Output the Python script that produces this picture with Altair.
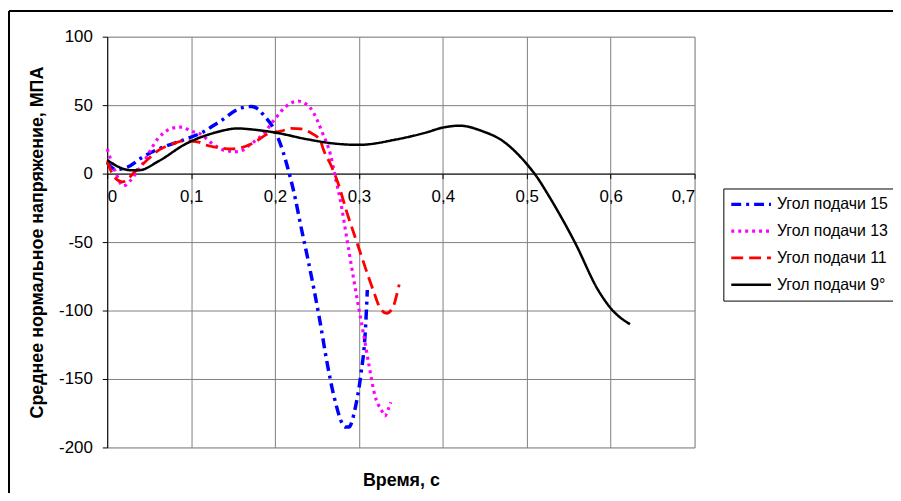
import altair as alt
import pandas as pd

# ---- data ----
series_names = ["Угол подачи 15", "Угол подачи 13", "Угол подачи 11", "Угол подачи 9°"]

t15 = [0, 0.01, 0.025, 0.042, 0.065, 0.091, 0.113, 0.134, 0.16, 0.172, 0.18, 0.186,
       0.2, 0.209, 0.215, 0.223, 0.231, 0.239, 0.253, 0.262, 0.27, 0.284, 0.288,
       0.296, 0.302, 0.308, 0.31]
v15 = [8, 3, 5, 12, 19, 24.6, 30, 38, 48, 49, 47, 43,
       31, 17, 4.5, -15, -39, -62, -106, -138, -162, -185, -185,
       -170, -148, -111, -85]

t13 = [0, 0.01, 0.019, 0.034, 0.042, 0.061, 0.077, 0.089, 0.1, 0.111, 0.124, 0.14,
       0.156, 0.172, 0.186, 0.2, 0.213, 0.227, 0.242, 0.257, 0.266, 0.272, 0.278,
       0.286, 0.294, 0.3, 0.306, 0.312, 0.319, 0.327, 0.331, 0.335, 0.338]
v13 = [18, 1, -9, 0, 7, 26, 33, 34, 31, 29, 22.5, 17,
       16, 22, 29, 40, 49, 53, 48, 29, 14, -3, -20,
       -49, -78, -99, -119, -140, -162, -173, -177, -172, -167]

t11 = [0, 0.008, 0.018, 0.034, 0.046, 0.061, 0.077, 0.093, 0.109, 0.117, 0.132,
       0.148, 0.16, 0.176, 0.191, 0.207, 0.219, 0.231, 0.242, 0.254, 0.258, 0.266,
       0.274, 0.286, 0.298, 0.31, 0.318, 0.325, 0.333, 0.341, 0.344, 0.348]
v11 = [9, -2, -6, 2, 9, 17, 21.5, 24, 23, 21, 19,
       18, 19, 23, 29, 31, 33, 32.6, 30, 24, 17, 7,
       -5, -29, -51, -73, -87, -98, -102, -97, -91, -81]

t9 = [0, 0.01, 0.028, 0.038, 0.061, 0.093, 0.129, 0.156, 0.168, 0.2, 0.239, 0.27,
      0.3, 0.345, 0.38, 0.4, 0.42, 0.447, 0.471, 0.5, 0.511, 0.526, 0.558, 0.585,
      0.601, 0.623]
v9 = [10, 6, 2.5, 2.5, 9, 21.5, 30, 33, 32.5, 30, 25, 22,
      21, 25, 30, 33.6, 35, 31, 24, 7, -1.5, -16, -51, -85,
      -99, -110]

x_ticks = [0, 0.1, 0.2, 0.3, 0.4, 0.5, 0.6, 0.7]
y_ticks = [100, 50, 0, -50, -100, -150, -200]

colors = ["#0000ff", "#ff00ff", "#ff0000", "#000000"]
dashes = [[10, 5, 3, 5], [3, 4], [12, 6], [1, 0]]
widths = [3.5, 2.5, 2.5, 2]

rows = []
for name, ts, vs in zip(series_names, [t15, t13, t11, t9], [v15, v13, v11, v9]):
    for i, (t, v) in enumerate(zip(ts, vs)):
        rows.append({"series": name, "t": t, "v": v, "i": i})
df = pd.DataFrame(rows)

W, H = 592, 414
FONT = "Liberation Sans"
FS = 17
TFS = 18

x_scale = alt.Scale(domain=[0, 0.7], nice=False, zero=False)
y_scale = alt.Scale(domain=[-200, 100], nice=False)

lines = alt.Chart(df).mark_line(interpolate="monotone", strokeCap="butt").encode(
    x=alt.X("t:Q", scale=x_scale,
            axis=alt.Axis(values=x_ticks, title="Время, с", offset=-276,
                          labelExpr="replace(format(datum.value, '.1~f'), '.', ',')",
                          grid=True, gridColor="#808080", domainColor="#000000",
                          tickColor="#000000", tickSize=5, labelPadding=10,
                          labelFont=FONT, labelFontSize=FS, labelColor="#000000",
                          titleFont=FONT, titleFontSize=TFS, titleFontWeight="bold",
                          titleColor="#000000", titleY=309, titleBaseline="middle")),
    y=alt.Y("v:Q", scale=y_scale,
            axis=alt.Axis(values=y_ticks, title="Среднее нормальное напряжение, МПА",
                          labelExpr="'' + datum.value",
                          grid=True, gridColor="#808080", domainColor="#000000",
                          tickColor="#000000", tickSize=5, labelPadding=10,
                          labelFont=FONT, labelFontSize=FS, labelColor="#000000",
                          titleFont=FONT, titleFontSize=TFS, titleFontWeight="bold",
                          titleColor="#000000", titleX=-70, titleBaseline="middle")),
    color=alt.Color("series:N",
                    scale=alt.Scale(domain=series_names, range=colors),
                    legend=alt.Legend(title=None, orient="none", legendX=621, legendY=153,
                                      symbolType="stroke", symbolSize=1600,
                                      symbolStrokeWidth=3, labelFont=FONT,
                                      labelFontSize=16, labelLimit=300,
                                      labelColor="#000000", strokeColor="#000000",
                                      padding=6, clipHeight=20, rowPadding=7,
                                      labelOffset=4, fillColor="#ffffff")),
    strokeDash=alt.StrokeDash("series:N",
                              scale=alt.Scale(domain=series_names, range=dashes)),
    strokeWidth=alt.StrokeWidth("series:N",
                                scale=alt.Scale(domain=series_names, range=widths),
                                legend=None),
    order="i:Q",
)

border_top = alt.Chart(df).mark_rule(color="#000000", strokeWidth=1.5).encode(
    x=alt.value(-99), x2=alt.value(800), y=alt.value(-26))
border_left = alt.Chart(df).mark_rule(color="#000000", strokeWidth=1.5).encode(
    x=alt.value(-99), y=alt.value(-26), y2=alt.value(470))

chart = alt.layer(lines, border_top, border_left).properties(
    width=W, height=H,
    autosize=alt.AutoSizeParams(type="none"),
    padding={"left": 100, "top": 27, "right": 200, "bottom": 44},
).configure_view(strokeWidth=0).configure(font=FONT)

chart.save("out.html", embed_options={"renderer": "svg", "actions": False})
